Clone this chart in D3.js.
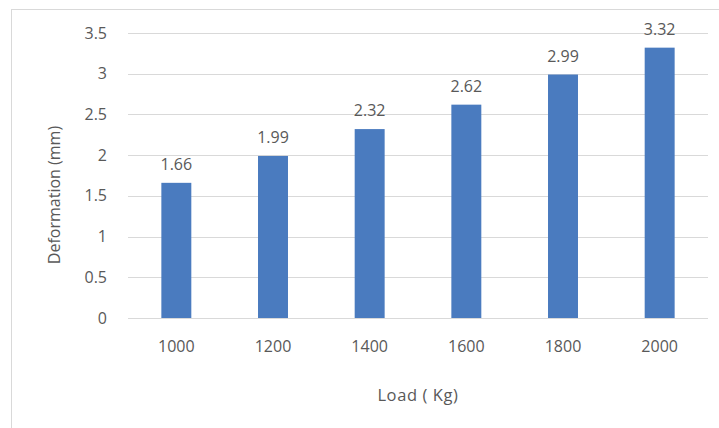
<!DOCTYPE html>
<html>
<head>
<meta charset="utf-8">
<script src="https://cdn.jsdelivr.net/npm/d3@7"></script>
<style>
  html, body { margin: 0; padding: 0; background: #fff; }
  svg { display: block; }
  text { font-family: "Open Sans", "Liberation Sans", sans-serif; fill: #595959; }
</style>
</head>
<body>
<svg id="chart" width="719" height="428"></svg>
<script>
// Load steps (kg) and measured deformation (mm)
const loads = ["1000", "1200", "1400", "1600", "1800", "2000"];
const deformation = [1.66, 1.99, 2.32, 2.62, 2.99, 3.32];
const yTicks = [0, 0.5, 1, 1.5, 2, 2.5, 3, 3.5];
const yTickLabels = ["0", "0.5", "1", "1.5", "2", "2.5", "3", "3.5"];

const svg = d3.select("#chart");
const W = 719, H = 428;
const plot = { left: 128, right: 708, top: 33, bottom: 318 };

// chart frame
svg.append("rect")
  .attr("x", 11.5).attr("y", 9.5)
  .attr("width", W + 10).attr("height", H + 10)
  .attr("fill", "#fff").attr("stroke", "#d9d9d9").attr("stroke-width", 1);

const x = d3.scaleBand().domain(loads).range([plot.left, plot.right]).paddingInner(0.69).paddingOuter(0.345);
const y = d3.scaleLinear().domain([0, 3.5]).range([plot.bottom, plot.top]);

// horizontal gridlines
svg.append("g")
  .selectAll("line")
  .data(yTicks)
  .join("line")
  .attr("x1", plot.left).attr("x2", plot.right)
  .attr("y1", d => Math.round(y(d)) + 0.5).attr("y2", d => Math.round(y(d)) + 0.5)
  .attr("stroke", "#d9d9d9").attr("stroke-width", 1);

// y axis labels
const yAxis = d3.axisLeft(y).tickValues(yTicks)
  .tickFormat((d, i) => yTickLabels[i]).tickSize(0).tickPadding(0);
const gy = svg.append("g").attr("transform", `translate(${plot.left - 21},0)`).call(yAxis);
gy.select(".domain").remove();
gy.selectAll("text").attr("font-size", 16).attr("fill", "#595959")
  .style("font-family", "'Open Sans', sans-serif");

// x axis labels
const xAxis = d3.axisBottom(x).tickSize(0).tickPadding(0);
const gx = svg.append("g").attr("transform", `translate(0,${plot.bottom + 23})`).call(xAxis);
gx.select(".domain").remove();
gx.selectAll("text").attr("font-size", 16).attr("fill", "#595959")
  .style("font-family", "'Open Sans', sans-serif");

// bars
svg.append("g")
  .selectAll("rect")
  .data(deformation)
  .join("rect")
  .attr("x", (d, i) => x(loads[i]))
  .attr("width", x.bandwidth())
  .attr("y", d => y(d))
  .attr("height", d => y(0) - y(d))
  .attr("fill", "#4a7bbf");

// value labels
svg.append("g")
  .selectAll("text")
  .data(deformation)
  .join("text")
  .attr("x", (d, i) => x(loads[i]) + x.bandwidth() / 2)
  .attr("y", d => y(d) - 13)
  .attr("text-anchor", "middle")
  .attr("font-size", 16)
  .text(d => d.toFixed(2));

// axis titles
svg.append("text")
  .attr("x", (plot.left + plot.right) / 2)
  .attr("y", 401)
  .attr("text-anchor", "middle")
  .attr("font-size", 16.5)
  .attr("letter-spacing", 0.6)
  .text("Load ( Kg)");

svg.append("text")
  .attr("transform", "translate(60,195) rotate(-90)")
  .attr("text-anchor", "middle")
  .attr("font-size", 16)
  .text("Deformation (mm)");
</script>
</body>
</html>
